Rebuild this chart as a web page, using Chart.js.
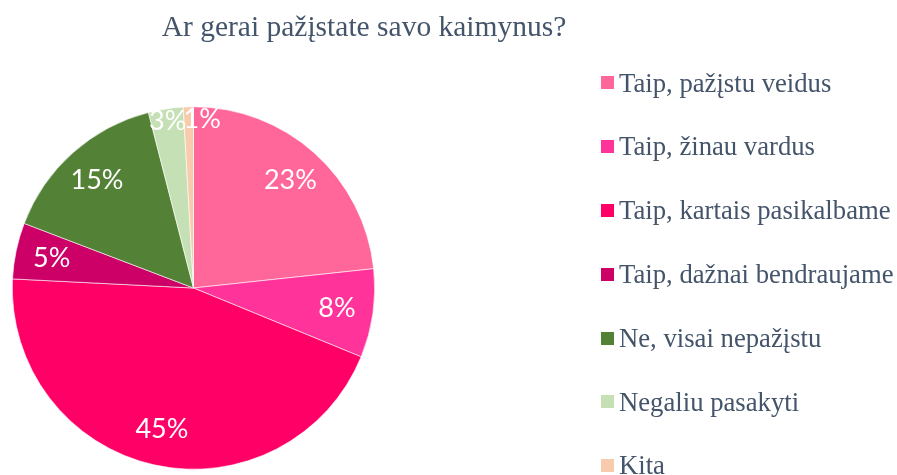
<!DOCTYPE html>
<html>
<head>
<meta charset="utf-8">
<script src="https://cdn.jsdelivr.net/npm/chart.js@4/dist/chart.umd.min.js"></script>
<style>
  html, body { margin: 0; padding: 0; background: #fff; }
  #wrap { position: relative; width: 897px; height: 475px; overflow: hidden; }
  #c { position: absolute; left: 0; top: 0; }
  #title {
    position: absolute; left: 0; width: 728px; top: 12px; text-align: center;
    font-family: "Liberation Serif", "Times New Roman", serif; font-size: 29.5px; line-height: 29.5px;
    color: #44546A; white-space: nowrap;
  }
  #legend { position: absolute; left: 601px; top: 51px; margin: 0; padding: 0; list-style: none; }
  #legend li {
    display: flex; align-items: center; height: 63.8px;
    font-family: "Liberation Serif", "Times New Roman", serif; font-size: 26.7px; line-height: 26.7px;
    color: #44546A; white-space: nowrap;
  }
  #legend li span.box { display: inline-block; width: 13px; height: 13px; margin-right: 5px; flex: none; }
</style>
</head>
<body>
<div id="wrap">
  <canvas id="c" width="897" height="475"></canvas>
  <div id="title"></div>
  <ul id="legend"></ul>
</div>
<script>
const chartTitle = "Ar gerai pažįstate savo kaimynus?";
const categories = [
  "Taip, pažįstu veidus",
  "Taip, žinau vardus",
  "Taip, kartais pasikalbame",
  "Taip, dažnai bendraujame",
  "Ne, visai nepažįstu",
  "Negaliu pasakyti",
  "Kita"
];
const shares = [23.3, 7.9, 44.6, 5.0, 15.2, 3.1, 0.9];
const sliceColors = ["#FF6699", "#FF3399", "#FF0066", "#CC0066", "#538135", "#C5E0B4", "#F8CBAD"];

document.getElementById('title').textContent = chartTitle;

const pctLabels = {
  id: 'pctLabels',
  afterDatasetsDraw(chart) {
    const ctx = chart.ctx;
    const meta = chart.getDatasetMeta(0);
    const data = chart.data.datasets[0].data;
    const total = data.reduce((a, b) => a + b, 0);
    const fontSize = 27;
    ctx.save();
    ctx.fillStyle = '#ffffff';
    ctx.font = fontSize + 'px Lato, "Open Sans", sans-serif';
    ctx.textAlign = 'center';
    ctx.textBaseline = 'middle';
    const placed = [];
    meta.data.forEach((arc, i) => {
      const p = arc.getProps(['x', 'y', 'startAngle', 'endAngle', 'outerRadius'], true);
      const share = data[i] / total;
      const text = Math.round(share * 100) + '%';
      const w = ctx.measureText(text).width * 0.9;
      const h = fontSize * 0.7;
      let ang = (p.startAngle + p.endAngle) / 2;
      const f = share < 0.04 ? 0.93 : 0.8;
      let x, y, guard = 0;
      const hits = () => placed.some(b => Math.abs(b.x - x) < (b.w + w) / 2 && Math.abs(b.y - y) < (b.h + h) / 2);
      do {
        x = p.x + Math.cos(ang) * p.outerRadius * f;
        y = p.y + Math.sin(ang) * p.outerRadius * f;
        ang += 0.01;
      } while (hits() && ++guard < 200);
      placed.push({x, y, w, h});
      ctx.fillText(text, x, y);
    });
    ctx.restore();
  }
};

const htmlLegend = {
  id: 'htmlLegend',
  afterUpdate(chart) {
    const ul = document.getElementById('legend');
    ul.innerHTML = '';
    const items = Chart.overrides.pie.plugins.legend.labels.generateLabels(chart);
    items.forEach(item => {
      const li = document.createElement('li');
      const box = document.createElement('span');
      box.className = 'box';
      box.style.background = item.fillStyle;
      const txt = document.createElement('span');
      txt.textContent = item.text;
      li.appendChild(box);
      li.appendChild(txt);
      ul.appendChild(li);
    });
  }
};

new Chart(document.getElementById('c'), {
  type: 'pie',
  data: {
    labels: categories,
    datasets: [{
      data: shares,
      backgroundColor: sliceColors,
      borderColor: '#ffffff',
      borderWidth: 0.6,
      hoverOffset: 0
    }]
  },
  options: {
    responsive: false,
    animation: false,
    layout: { padding: { left: 12, top: 106, right: 522, bottom: 5 } },
    plugins: {
      legend: { display: false },
      title: { display: false },
      tooltip: { enabled: false }
    }
  },
  plugins: [pctLabels, htmlLegend]
});
</script>
</body>
</html>
